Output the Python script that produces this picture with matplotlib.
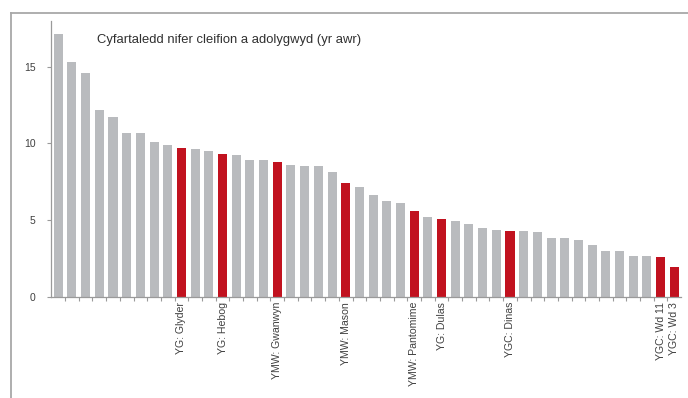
import matplotlib
matplotlib.use("Agg")
import matplotlib.pyplot as plt
from matplotlib.lines import Line2D
import numpy as np

plt.rcParams["font.family"] = ["Liberation Sans", "DejaVu Sans"]

# average patients reviewed per hour, one bar per ward, sorted high to low
values = [
    17.1, 15.3, 14.6, 12.2, 11.7, 10.7, 10.7, 10.1, 9.9, 9.7,
    9.6, 9.5, 9.3, 9.2, 8.9, 8.9, 8.75, 8.6, 8.5, 8.5,
    8.1, 7.4, 7.15, 6.6, 6.2, 6.1, 5.55, 5.2, 5.05, 4.9,
    4.75, 4.45, 4.35, 4.3, 4.3, 4.2, 3.8, 3.8, 3.7, 3.35,
    3.0, 3.0, 2.65, 2.65, 2.55, 1.95,
]
# only the highlighted wards carry a name
labels = [""] * len(values)
highlighted = {
    9: "YG: Glyder",
    12: "YG: Hebog",
    16: "YMW: Gwanwyn",
    21: "YMW: Mason",
    26: "YMW: Pantomime",
    28: "YG: Dulas",
    33: "YGC: Dinas",
    44: "YGC: Wd 11",
    45: "YGC: Wd 3",
}
for idx, name in highlighted.items():
    labels[idx] = name

title = "Cyfartaledd nifer cleifion a adolygwyd (yr awr)"

GREY = "#b9bbbe"
RED = "#c1121f"
AXIS = "#9a9a9a"
TEXT = "#404040"

fig = plt.figure(figsize=(6.88, 3.98), dpi=100)
ax = fig.add_axes([0.0737, 0.2550, 0.9157, 0.6932])

x = np.arange(len(values))
colors = [RED if lab else GREY for lab in labels]
ax.bar(x, values, width=0.66, color=colors, zorder=2)

ax.set_xlim(-0.55, 45.47)
ax.set_ylim(0, 18)
ax.set_yticks([0, 5, 10, 15])
ax.tick_params(axis="y", length=3, width=0.8, color=AXIS, pad=8,
               labelsize=7.5, labelcolor=TEXT)

ax.set_xticks(x)
ax.set_xticklabels(labels, rotation=90, fontsize=7.6, color=TEXT)
ax.tick_params(axis="x", which="major", length=0, pad=4)
ax.set_xticks(x[:-1] + 0.5, minor=True)
ax.tick_params(axis="x", which="minor", length=3, width=0.8, color=AXIS)

for side in ("top", "right"):
    ax.spines[side].set_visible(False)
for side in ("left", "bottom"):
    ax.spines[side].set_color(AXIS)
    ax.spines[side].set_linewidth(0.9)

fig.text(97 / 688, 1 - 40 / 398, title, fontsize=9.4, color="#303030",
         ha="left", va="center")

# outer frame: grey rule along the top and down the left side
top = 1 - 13 / 398
left = 10.5 / 688
fig.add_artist(Line2D([left, 1.0], [top, top], transform=fig.transFigure,
                      color="#a8a8a8", linewidth=1.3))
fig.add_artist(Line2D([left, left], [0.0, top], transform=fig.transFigure,
                      color="#a8a8a8", linewidth=1.3))

fig.savefig("out.png", dpi=100)
